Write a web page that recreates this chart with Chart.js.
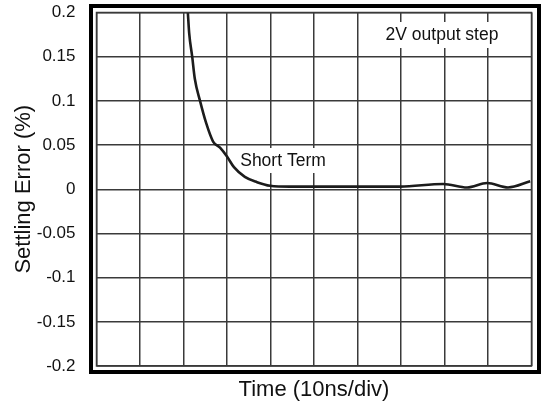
<!DOCTYPE html>
<html>
<head>
<meta charset="utf-8">
<script src="https://cdn.jsdelivr.net/npm/chart.js@4/dist/chart.umd.min.js"></script>
<style>
  html, body { margin: 0; padding: 0; background: #fff; }
  #wrap { width: 542px; height: 411px; }
</style>
</head>
<body>
<div id="wrap"><canvas id="settle"></canvas></div>
<script>
// Settling error vs time, 2V output step
const timeDiv = [2.10, 2.13, 2.20, 2.26, 2.38, 2.52, 2.68, 2.84, 3.00, 3.16, 3.41, 3.69, 3.99, 4.45, 5.0, 6.0, 6.98, 7.97, 8.52, 8.98, 9.46, 9.97];
const errorPct = [0.200, 0.177, 0.150, 0.125, 0.100, 0.075, 0.054, 0.047, 0.037, 0.025, 0.014, 0.008, 0.004, 0.003, 0.003, 0.003, 0.003, 0.006, 0.002, 0.007, 0.002, 0.009];
const yTickLabels = ['-0.2', '-0.15', '-0.1', '-0.05', '0', '0.05', '0.1', '0.15', '0.2'];

const FONT = 'Liberation Sans, Arial, Helvetica, sans-serif';
const GRID = '#3a3a3a';

const annotations = [
  { text: '2V output step', x: 442, y: 35, box: [381, 22, 124, 26] },
  { text: 'Short Term', x: 283, y: 161, box: [234, 148, 98, 25] }
];

// white boxes behind the labels, drawn over the grid but under the curve
const labelPlugin = {
  id: 'labels',
  beforeDatasetsDraw(chart) {
    const ctx = chart.ctx;
    ctx.save();
    ctx.fillStyle = '#fff';
    annotations.forEach(a => ctx.fillRect(a.box[0], a.box[1], a.box[2], a.box[3]));
    ctx.fillStyle = '#111';
    ctx.font = '17.5px ' + FONT;
    ctx.textAlign = 'center';
    ctx.textBaseline = 'middle';
    annotations.forEach(a => ctx.fillText(a.text, a.x, a.y));
    ctx.restore();
  }
};

// thick outer frame around the plot
const framePlugin = {
  id: 'frame',
  afterDraw(chart) {
    const { left, right, top, bottom } = chart.chartArea;
    const ctx = chart.ctx;
    ctx.save();
    ctx.strokeStyle = '#000';
    ctx.lineWidth = 4;
    ctx.strokeRect(left - 5.5, top - 6.5, right - left + 13, bottom - top + 12.5);
    ctx.lineWidth = 1.5;
    ctx.strokeStyle = GRID;
    ctx.strokeRect(left, top, right - left, bottom - top);
    ctx.restore();
  }
};

new Chart(document.getElementById('settle').getContext('2d'), {
  type: 'line',
  data: {
    datasets: [{
      data: timeDiv.map((t, i) => ({ x: t, y: errorPct[i] })),
      borderColor: '#1c1c1c',
      borderWidth: 2.6,
      pointRadius: 0,
      fill: false,
      cubicInterpolationMode: 'monotone'
    }]
  },
  options: {
    responsive: true,
    maintainAspectRatio: false,
    animation: false,
    layout: { padding: { left: 0, right: 10.5, top: 12.5, bottom: 0 } },
    plugins: { legend: { display: false }, tooltip: { enabled: false } },
    scales: {
      x: {
        type: 'linear',
        min: 0,
        max: 10,
        afterFit: s => { s.height = 45; s.paddingLeft = 0; s.paddingRight = 0; },
        ticks: { stepSize: 1, display: false },
        grid: { color: GRID, lineWidth: 1.5, drawTicks: false },
        border: { display: false },
        title: {
          display: true,
          text: 'Time (10ns/div)',
          color: '#111',
          font: { family: FONT, size: 22 },
          padding: { top: 0, bottom: 8 }
        }
      },
      y: {
        min: -0.2,
        max: 0.2,
        afterFit: s => { s.width = 96.5; s.paddingTop = 0; s.paddingBottom = 0; },
        afterBuildTicks: s => { s.ticks = yTickLabels.map(v => ({ value: parseFloat(v) })); },
        ticks: {
          color: '#111',
          padding: 21,
          font: { family: FONT, size: 17 },
          callback: (v, i) => yTickLabels[i]
        },
        grid: { color: GRID, lineWidth: 1.5, drawTicks: false },
        border: { display: false },
        title: {
          display: true,
          text: 'Settling Error (%)',
          color: '#111',
          font: { family: FONT, size: 22 },
          padding: { top: 11, bottom: 0 }
        }
      }
    }
  },
  plugins: [labelPlugin, framePlugin]
});
</script>
</body>
</html>
